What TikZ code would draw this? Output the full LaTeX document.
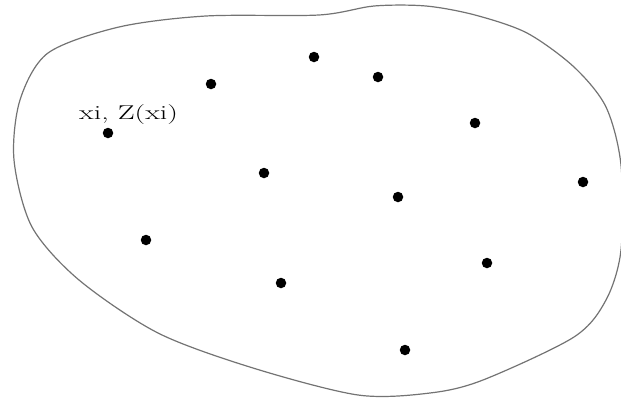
\documentclass[tikz,border=0pt]{standalone}
\usepackage{fontspec}
\begin{document}
\begin{tikzpicture}[x=1pt,y=-1pt,
  dot/.style={circle,fill=black,inner sep=0pt,minimum size=10.5pt},
  outline/.style={draw=black!55,line width=1.2pt},
  lbl/.style={font=\fontsize{20}{22}\selectfont,inner sep=0pt,anchor=base west}]
\useasboundingbox (0,0) rectangle (621,397);
\draw[outline] plot[smooth cycle,tension=0.5] coordinates {
 (206,16) (319,15) (374,6) (426,6) (475,15) (527,33) (574,67) (606,107)
 (621,165) (621,250) (606,300) (574,337) (483,380)
 (430,393) (358,395) (253,368) (158,333)
 (79,280) (32,227) (14,160) (20,100) (48,53)
 (119,27)};
\node[dot] (p1) at (314,57) {};
\node[dot] (p2) at (211,84) {};
\node[dot] (p3) at (378,77) {};
\node[dot] (p4) at (475,123) {};
\node[dot] (p5) at (108,133) {};
\node[dot] (p6) at (264,173) {};
\node[dot] (p7) at (583,182) {};
\node[dot] (p8) at (398,197) {};
\node[dot] (p9) at (146,240) {};
\node[dot] (p10) at (487,263) {};
\node[dot] (p11) at (281,283) {};
\node[dot] (p12) at (405,350) {};
\node[lbl] (l) at (79,119) {\scalebox{1.5}[1]{xi, Z(xi)}};
\end{tikzpicture}
\end{document}
